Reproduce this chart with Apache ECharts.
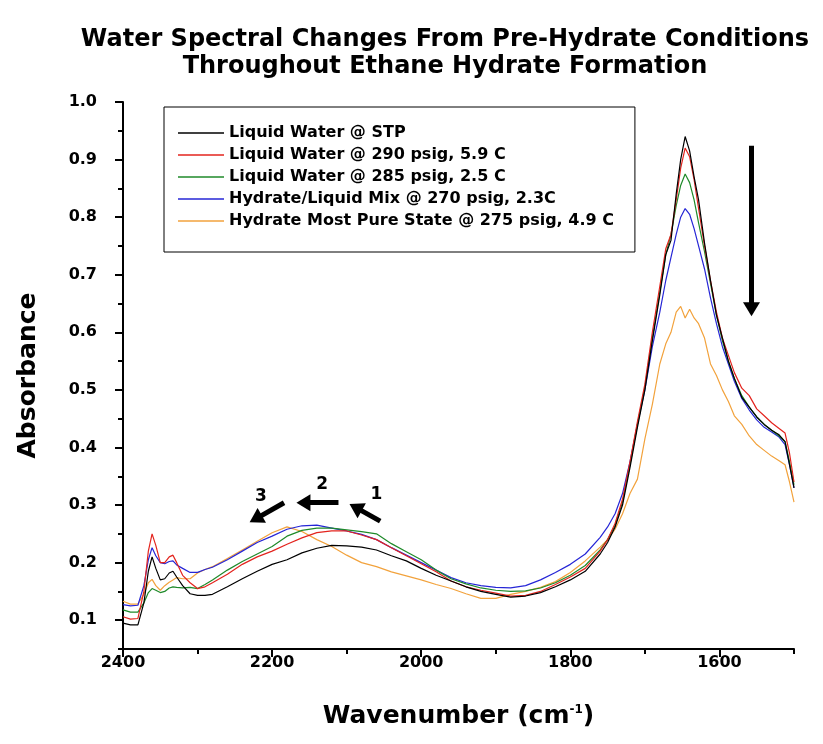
<!DOCTYPE html>
<html>
<head>
<meta charset="utf-8">
<script src="https://cdn.jsdelivr.net/npm/echarts@6/dist/echarts.min.js"></script>
<style>html,body{margin:0;padding:0;background:#fff;}#c{width:823px;height:744px;}</style>
</head>
<body>
<div id="c"></div>
<script>
const wavenumbers = [2400,2390,2380,2372,2366,2361,2356,2350,2344,2338,2333,2328,2320,2310,2300,2290,2280,2260,2240,2220,2200,2180,2160,2140,2120,2100,2080,2060,2040,2020,2000,1980,1960,1940,1920,1900,1880,1860,1840,1820,1800,1780,1760,1750,1740,1730,1720,1710,1700,1690,1680,1672,1665,1658,1652,1646,1640,1634,1628,1620,1612,1604,1596,1588,1580,1570,1560,1550,1540,1530,1520,1512,1506,1500];

const seriesNames = [
  'Liquid Water @ STP',
  'Liquid Water @ 290 psig, 5.9 C',
  'Liquid Water @ 285 psig, 2.5 C',
  'Hydrate/Liquid Mix @ 270 psig, 2.3C',
  'Hydrate Most Pure State @ 275 psig, 4.9 C'
];

const stpWater = [0.095,0.092,0.092,0.13,0.185,0.21,0.19,0.17,0.172,0.182,0.185,0.175,0.16,0.146,0.143,0.143,0.145,0.158,0.172,0.185,0.197,0.205,0.217,0.225,0.23,0.229,0.227,0.222,0.212,0.203,0.19,0.178,0.168,0.158,0.15,0.145,0.14,0.142,0.148,0.158,0.17,0.185,0.215,0.235,0.262,0.3,0.365,0.435,0.5,0.585,0.665,0.735,0.76,0.84,0.9,0.94,0.915,0.87,0.83,0.755,0.69,0.63,0.59,0.55,0.52,0.487,0.47,0.453,0.44,0.43,0.422,0.41,0.37,0.33];

const water290 = [0.106,0.102,0.103,0.15,0.22,0.25,0.23,0.2,0.2,0.21,0.213,0.2,0.178,0.165,0.155,0.158,0.165,0.18,0.197,0.21,0.22,0.232,0.243,0.252,0.255,0.255,0.248,0.24,0.226,0.212,0.198,0.184,0.168,0.158,0.152,0.147,0.142,0.143,0.15,0.162,0.175,0.19,0.22,0.24,0.268,0.31,0.375,0.445,0.51,0.6,0.68,0.745,0.77,0.83,0.885,0.92,0.905,0.865,0.815,0.75,0.69,0.635,0.59,0.56,0.53,0.503,0.49,0.467,0.455,0.443,0.433,0.425,0.39,0.34];

const water285 = [0.118,0.114,0.114,0.13,0.148,0.155,0.152,0.148,0.15,0.156,0.158,0.157,0.156,0.157,0.155,0.162,0.17,0.187,0.202,0.215,0.228,0.246,0.256,0.26,0.26,0.257,0.254,0.25,0.233,0.219,0.205,0.187,0.172,0.163,0.156,0.152,0.15,0.151,0.156,0.165,0.178,0.195,0.222,0.24,0.265,0.305,0.37,0.44,0.505,0.59,0.67,0.735,0.77,0.82,0.855,0.875,0.86,0.83,0.79,0.74,0.685,0.63,0.585,0.55,0.52,0.49,0.47,0.453,0.44,0.43,0.42,0.41,0.375,0.335];

const hydrateMix = [0.127,0.125,0.126,0.16,0.205,0.226,0.212,0.2,0.198,0.202,0.203,0.196,0.19,0.183,0.183,0.188,0.192,0.205,0.22,0.235,0.246,0.258,0.264,0.265,0.26,0.255,0.249,0.24,0.226,0.213,0.2,0.187,0.174,0.165,0.16,0.157,0.156,0.16,0.17,0.183,0.197,0.215,0.244,0.262,0.285,0.32,0.375,0.44,0.5,0.575,0.635,0.69,0.73,0.77,0.8,0.815,0.805,0.78,0.75,0.71,0.66,0.615,0.575,0.545,0.515,0.485,0.465,0.448,0.435,0.427,0.418,0.405,0.37,0.33];

const hydratePure = [0.133,0.128,0.128,0.145,0.165,0.171,0.16,0.152,0.16,0.166,0.17,0.174,0.172,0.172,0.182,0.188,0.193,0.207,0.222,0.237,0.252,0.262,0.254,0.24,0.228,0.213,0.2,0.193,0.184,0.177,0.17,0.162,0.155,0.146,0.138,0.138,0.145,0.15,0.157,0.167,0.183,0.203,0.227,0.24,0.258,0.285,0.32,0.345,0.415,0.475,0.545,0.58,0.6,0.635,0.645,0.625,0.64,0.625,0.615,0.59,0.545,0.525,0.5,0.48,0.455,0.44,0.42,0.405,0.395,0.385,0.377,0.37,0.34,0.305];

const yTickLabels = [0.1,0.2,0.3,0.4,0.5,0.6,0.7,0.8,0.9,1.0];
const xTickLabels = [2400,2200,2000,1800,1600];
const xMinorTicks = [2300,2100,1900,1700,1500];

const colors = ['#000000','#e3241e','#1f8a2a','#2626d6','#f2a23c'];
const allValues = [stpWater, water290, water285, hydrateMix, hydratePure];

const FONT = '"DejaVu Sans", "Liberation Sans", Arial, sans-serif';

const series = allValues.map((vals, i) => ({
  name: seriesNames[i],
  type: 'line',
  symbol: 'none',
  smooth: false,
  data: wavenumbers.map((w, k) => [w, vals[k]]),
  lineStyle: { color: colors[i], width: 1.2 },
  itemStyle: { color: colors[i] },
  z: 10 - i,
  animation: false
}));

// annotation arrows (data anchored)
series.push({
  name: 'arrows',
  type: 'line',
  data: [],
  animation: false,
  markLine: {
    silent: true,
    animation: false,
    symbol: ['none', 'triangle'],
    symbolSize: [17, 14],
    label: { show: false },
    lineStyle: { color: '#000', width: 5, type: 'solid' },
    data: [
      [{ coord: [2055, 0.272] }, { coord: [2088, 0.296] }],
      [{ coord: [2111, 0.304] }, { coord: [2158, 0.304] }],
      [{ coord: [2184, 0.304] }, { coord: [2222, 0.276] }],
      [{ coord: [1557, 0.924], symbolSize: [22, 20] }, { coord: [1557, 0.64] }]
    ]
  },
  markPoint: {
    silent: true,
    animation: false,
    symbol: 'circle',
    symbolSize: 0,
    label: { show: true, formatter: '{b}', color: '#000', fontFamily: FONT, fontWeight: 'bold', fontSize: 17 },
    data: [
      { name: '1', coord: [2060, 0.318] },
      { name: '2', coord: [2133, 0.335] },
      { name: '3', coord: [2215, 0.314] }
    ]
  }
});

const chart = echarts.init(document.getElementById('c'), null, { renderer: 'canvas' });
chart.setOption({
  backgroundColor: '#ffffff',
  animation: false,
  title: {
    text: 'Water Spectral Changes From Pre-Hydrate Conditions\nThroughout Ethane Hydrate Formation',
    left: 440,
    top: 21,
    textAlign: 'center',
    textStyle: { fontFamily: FONT, fontWeight: 'bold', fontSize: 24, lineHeight: 27, color: '#000' }
  },
  legend: {
    data: seriesNames,
    orient: 'vertical',
    left: 164,
    top: 107,
    padding: [18, 21, 23, 14],
    itemGap: 6,
    itemWidth: 46,
    itemHeight: 1.5,
    icon: 'rect',
    borderColor: '#000',
    borderWidth: 1,
    backgroundColor: '#fff',
    selectedMode: false,
    textStyle: { fontFamily: FONT, fontWeight: 'bold', fontSize: 16, color: '#000' }
  },
  grid: { left: 123, right: 29, top: 102, bottom: 95 },
  xAxis: [
    {
      type: 'value',
      inverse: true,
      min: 1500,
      max: 2400,
      splitLine: { show: false },
      axisLine: { lineStyle: { color: '#000', width: 2 } },
      axisTick: { customValues: xTickLabels, length: 8, lineStyle: { color: '#000', width: 2 } },
      axisLabel: { customValues: xTickLabels, margin: 6, formatter: v => String(v), color: '#000', fontFamily: FONT, fontWeight: 'bold', fontSize: 16 },
      name: 'Wavenumber (cm{sup|-1})',
      nameLocation: 'middle',
      nameGap: 55,
      nameTextStyle: {
        fontFamily: FONT, fontWeight: 'bold', fontSize: 25, color: '#000',
        rich: { sup: { fontFamily: FONT, fontWeight: 'bold', fontSize: 12, color: '#000', verticalAlign: 'top', padding: [0, 0, 12, 0] } }
      }
    },
    {
      type: 'value',
      inverse: true,
      min: 1500,
      max: 2400,
      position: 'bottom',
      splitLine: { show: false },
      axisLine: { show: false },
      axisTick: { customValues: xMinorTicks, length: 5, lineStyle: { color: '#000', width: 2 } },
      axisLabel: { show: false }
    }
  ],
  yAxis: [
    {
      type: 'value',
      min: 0.05,
      max: 1.0,
      splitLine: { show: false },
      axisLine: { show: true, lineStyle: { color: '#000', width: 2 } },
      axisTick: { show: true, customValues: yTickLabels, length: 8, lineStyle: { color: '#000', width: 2 } },
      axisLabel: { customValues: yTickLabels, margin: 26, formatter: v => v.toFixed(1), color: '#000', fontFamily: FONT, fontWeight: 'bold', fontSize: 16 },
      name: 'Absorbance',
      nameLocation: 'middle',
      nameRotate: 90,
      nameGap: 82,
      nameTextStyle: { fontFamily: FONT, fontWeight: 'bold', fontSize: 25, color: '#000' }
    },
    {
      type: 'value',
      min: 0.05,
      max: 1.0,
      interval: 0.05,
      position: 'left',
      splitLine: { show: false },
      axisLine: { show: false },
      axisTick: { show: true, length: 5, lineStyle: { color: '#000', width: 2 } },
      axisLabel: { show: false }
    }
  ],
  series: series
});
</script>
</body>
</html>
